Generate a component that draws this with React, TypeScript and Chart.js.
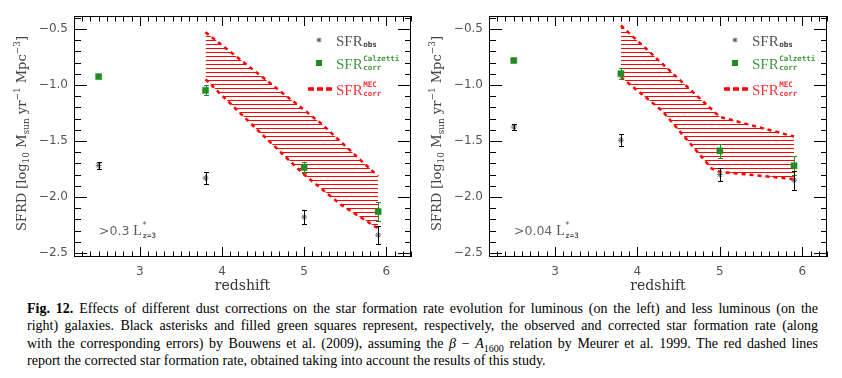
import React, { useEffect, useRef } from 'react';
import { Chart, registerables } from 'chart.js';
Chart.register(...registerables);

// ---------- data ----------
const xTicks = [3, 4, 5, 6];
const xTickLabels = ['3', '4', '5', '6'];
const yTicks = [-0.5, -1.0, -1.5, -2.0, -2.5];
const yTickLabels = ['−0.5', '−1.0', '−1.5', '−2.0', '−2.5'];

const redshifts = [2.5, 3.8, 5.0, 5.9];

// left panel: > 0.3 L*
const leftObs = [-1.718, -1.83, -2.179, -2.34];
const leftObsErr = [0.03, 0.05, 0.06, 0.078];
const leftCalz = [-0.926, -1.048, -1.736, -2.13];
const leftCalzErr = [0.012, 0.045, 0.05, 0.082];
const leftMecUpperZ = [3.8, 4.7, 5.2, 5.9];
const leftMecUpper = [-0.53, -1.05, -1.34, -1.815];
const leftMecLowerZ = [3.8, 4.5, 5.0, 5.45, 5.9];
const leftMecLower = [-0.95, -1.45, -1.8, -2.07, -2.28];

// right panel: > 0.04 L*
const rightObs = [-1.375, -1.493, -1.8, -1.85];
const rightObsErr = [0.03, 0.052, 0.057, 0.085];
const rightCalz = [-0.782, -0.9, -1.588, -1.721];
const rightCalzErr = [0.012, 0.049, 0.062, 0.084];
const rightMecUpperZ = [3.8, 5.0, 5.9];
const rightMecUpper = [-0.47, -1.285, -1.46];
const rightMecLowerZ = [3.8, 4.3, 4.9, 5.0, 5.9];
const rightMecLower = [-0.93, -1.23, -1.745, -1.775, -1.84];

const GREEN = '#228b22';
const RED = '#ff0000';
const TEXT = '#444';

type Run = { t: string; f: string; dy?: number; c?: string };

function runsWidth(ctx: CanvasRenderingContext2D, runs: Run[]) {
  let w = 0;
  for (const r of runs) {
    ctx.font = r.f;
    w += ctx.measureText(r.t).width;
  }
  return w;
}
function drawRuns(ctx: CanvasRenderingContext2D, x: number, y: number, runs: Run[], color: string) {
  let cx = x;
  for (const r of runs) {
    ctx.font = r.f;
    ctx.fillStyle = r.c || color;
    ctx.fillText(r.t, cx, y + (r.dy || 0));
    cx += ctx.measureText(r.t).width;
  }
  return cx;
}

function drawStar(ctx: CanvasRenderingContext2D, x: number, y: number, r: number, color: string) {
  ctx.save();
  ctx.strokeStyle = color;
  ctx.lineWidth = 1;
  ctx.beginPath();
  for (let k = 0; k < 4; k++) {
    const a = (k * Math.PI) / 4;
    ctx.moveTo(x - r * Math.cos(a), y - r * Math.sin(a));
    ctx.lineTo(x + r * Math.cos(a), y + r * Math.sin(a));
  }
  ctx.stroke();
  ctx.restore();
}

interface PanelCfg {
  obs: number[];
  obsErr: number[];
  calz: number[];
  calzErr: number[];
  upZ: number[];
  up: number[];
  loZ: number[];
  lo: number[];
  yAxisWidth: number;
  padRight: number;
  threshold: string;
}

const framePlugin = {
  id: 'frame',
  beforeDatasetsDraw(chart: any) {
    const { ctx, chartArea: a, scales } = chart;
    const xs = scales.x;
    const ys = scales.y;
    ctx.save();
    ctx.strokeStyle = '#000';
    ctx.lineWidth = 1;
    ctx.strokeRect(a.left + 0.5, a.top + 0.5, a.right - a.left - 1, a.bottom - a.top - 1);
    ctx.beginPath();
    for (let i = Math.ceil(xs.min * 10); i <= Math.floor(xs.max * 10); i++) {
      const px = Math.round(xs.getPixelForValue(i / 10)) + 0.5;
      const len = i % 10 === 0 ? 10 : 5.5;
      ctx.moveTo(px, a.bottom);
      ctx.lineTo(px, a.bottom - len);
      ctx.moveTo(px, a.top);
      ctx.lineTo(px, a.top + len);
    }
    for (let i = Math.ceil(ys.min * 10); i <= Math.floor(ys.max * 10); i++) {
      const py = Math.round(ys.getPixelForValue(i / 10)) + 0.5;
      const major = i % 5 === 0;
      ctx.moveTo(a.left, py);
      ctx.lineTo(a.left + (major ? 13 : 7), py);
      ctx.moveTo(a.right, py);
      ctx.lineTo(a.right - (major ? 13 : 6), py);
    }
    ctx.stroke();
    ctx.restore();
  },
};

const errorBarPlugin = {
  id: 'errbars',
  afterDatasetsDraw(chart: any) {
    const { ctx, scales } = chart;
    const xs = scales.x;
    const ys = scales.y;
    chart.data.datasets.forEach((ds: any) => {
      const errs: number[] | undefined = ds.errorBars;
      if (!errs) return;
      ctx.save();
      ctx.strokeStyle = ds.errorColor;
      ctx.lineWidth = 1;
      ctx.beginPath();
      ds.data.forEach((p: any, j: number) => {
        const x = Math.round(xs.getPixelForValue(p.x)) + 0.5;
        const y1 = Math.round(ys.getPixelForValue(p.y + errs[j])) + 0.5;
        const y2 = Math.round(ys.getPixelForValue(p.y - errs[j])) + 0.5;
        ctx.moveTo(x, y1);
        ctx.lineTo(x, y2);
        ctx.moveTo(x - 2.5, y1);
        ctx.lineTo(x + 2.5, y1);
        ctx.moveTo(x - 2.5, y2);
        ctx.lineTo(x + 2.5, y2);
      });
      ctx.stroke();
      ctx.restore();
    });
  },
};

function makeDecorPlugin(threshold: string) {
  return {
    id: 'decor',
    afterDraw(chart: any) {
      const { ctx, chartArea: a } = chart;
      ctx.save();
      ctx.textBaseline = 'alphabetic';
      // y axis title
      const mainF = '13px "DejaVu Serif"';
      const subF = '9px "DejaVu Serif"';
      const runs: Run[] = [
        { t: 'SFRD [log', f: mainF },
        { t: '10', f: subF, dy: 3 },
        { t: ' M', f: mainF },
        { t: 'sun', f: subF, dy: 3 },
        { t: ' yr', f: mainF },
        { t: '−1', f: subF, dy: -6 },
        { t: ' Mpc', f: mainF },
        { t: '−3', f: subF, dy: -6 },
        { t: ']', f: mainF },
      ];
      const w = runsWidth(ctx, runs);
      ctx.save();
      ctx.translate(a.left - 48, (a.top + a.bottom) / 2 - 3);
      ctx.rotate(-Math.PI / 2);
      drawRuns(ctx, -w / 2, 0, runs, TEXT);
      ctx.restore();

      // legend
      const mx = a.right - 92;
      const tx = a.right - 75;
      const sfrF = '15px "Liberation Serif"';
      const smallF = 'bold 7.5px "DejaVu Sans Mono"';
      const rows = [
        { cy: a.top + 24, color: '#555', sup: '', sub: 'obs' },
        { cy: a.top + 47, color: '#3c9a3c', sup: 'Calzetti', sub: 'corr' },
        { cy: a.top + 73, color: '#ff3030', sup: 'MEC', sub: 'corr' },
      ];
      rows.forEach((r, k) => {
        if (k === 0) drawStar(ctx, mx, r.cy, 2.5, '#555');
        if (k === 1) {
          ctx.fillStyle = GREEN;
          ctx.fillRect(mx - 3, r.cy - 3, 6, 6);
        }
        if (k === 2) {
          ctx.save();
          ctx.strokeStyle = RED;
          ctx.lineWidth = 3.5;
          ctx.setLineDash([6, 3]);
          ctx.beginPath();
          ctx.moveTo(a.right - 103, r.cy);
          ctx.lineTo(a.right - 79, r.cy);
          ctx.stroke();
          ctx.restore();
        }
        const base = r.cy + 5.5;
        ctx.font = sfrF;
        ctx.fillStyle = r.color;
        ctx.fillText('SFR', tx, base);
        const sx = tx + ctx.measureText('SFR').width + 0.5;
        ctx.font = smallF;
        ctx.fillStyle = k === 0 ? '#333' : r.color;
        ctx.fillText(r.sub, sx, base + 1.5);
        if (r.sup) ctx.fillText(r.sup, sx, base - 8);
      });

      // threshold annotation
      const ax = a.left + 25;
      const ab = a.bottom - 22;
      let cx = drawRuns(ctx, ax, ab, [{ t: '>' + threshold + ' ', f: '12.5px "DejaVu Sans"' }], '#666');
      ctx.font = '14px "Liberation Serif"';
      ctx.fillStyle = '#555';
      ctx.fillText('L', cx, ab);
      const lw = ctx.measureText('L').width;
      ctx.font = '8px "DejaVu Sans"';
      ctx.fillText('*', cx + lw + 0.5, ab - 7);
      ctx.font = smallF;
      ctx.fillText('z=3', cx + lw + 0.5, ab + 2.5);
      ctx.restore();
    },
  };
}

function buildConfig(cfg: PanelCfg, hatch: CanvasPattern | string): any {
  const pts = (xs: number[], ys: number[]) => xs.map((x, i) => ({ x, y: ys[i] }));
  return {
    type: 'line',
    data: {
      datasets: [
        {
          data: pts(redshifts, cfg.calz),
          showLine: false,
          pointStyle: 'rect',
          pointRadius: 4.3,
          pointBackgroundColor: GREEN,
          pointBorderColor: GREEN,
          pointBorderWidth: 0.5,
          errorBars: cfg.calzErr,
          errorColor: GREEN,
        },
        {
          data: pts(redshifts, cfg.obs),
          showLine: false,
          pointStyle: 'star',
          pointRadius: 3,
          pointBorderColor: '#666',
          pointBorderWidth: 1,
          errorBars: cfg.obsErr,
          errorColor: '#000',
        },
        {
          data: pts(cfg.upZ, cfg.up),
          borderColor: RED,
          borderWidth: 2.5,
          borderDash: [4, 4],
          pointRadius: 0,
          tension: 0,
          fill: '+1',
          backgroundColor: hatch,
        },
        {
          data: pts(cfg.loZ, cfg.lo),
          borderColor: RED,
          borderWidth: 2.5,
          borderDash: [4, 4],
          pointRadius: 0,
          tension: 0,
          fill: false,
        },
      ],
    },
    options: {
      responsive: false,
      animation: false,
      events: [],
      layout: { padding: { left: 0, right: cfg.padRight, top: 16, bottom: 0 }, autoPadding: false },
      plugins: { legend: { display: false }, tooltip: { enabled: false } },
      scales: {
        x: {
          type: 'linear',
          min: 2.2,
          max: 6.3,
          grid: { display: false, drawTicks: false },
          border: { display: false },
          afterBuildTicks: (s: any) => {
            s.ticks = xTicks.map((v) => ({ value: v }));
          },
          afterFit: (s: any) => {
            s.height = 38;
          },
          ticks: {
            callback: (v: number) => xTickLabels[xTicks.indexOf(v)],
            font: { family: 'DejaVu Sans', size: 12 },
            color: '#555',
            padding: 8,
            maxRotation: 0,
            autoSkip: false,
          },
          title: {
            display: true,
            text: 'redshift',
            font: { family: 'DejaVu Serif', size: 14 },
            color: '#333',
            padding: { top: 0, bottom: 0 },
          },
        },
        y: {
          type: 'linear',
          min: -2.535,
          max: -0.385,
          grid: { display: false, drawTicks: false },
          border: { display: false },
          afterBuildTicks: (s: any) => {
            s.ticks = yTicks.map((v) => ({ value: v }));
          },
          afterFit: (s: any) => {
            s.width = cfg.yAxisWidth;
          },
          ticks: {
            callback: (v: number) => yTickLabels[yTicks.indexOf(v)],
            font: { family: 'DejaVu Sans', size: 12 },
            color: '#555',
            padding: 6,
            autoSkip: false,
          },
        },
      },
    },
    plugins: [framePlugin, errorBarPlugin, makeDecorPlugin(cfg.threshold)],
  };
}

function Panel({ left, cfg }: { left: number; cfg: PanelCfg }) {
  const ref = useRef<HTMLCanvasElement>(null);
  useEffect(() => {
    const canvas = ref.current!;
    const pc = document.createElement('canvas');
    pc.width = 8;
    pc.height = 4;
    const pctx = pc.getContext('2d')!;
    pctx.fillStyle = RED;
    pctx.fillRect(0, 0, 8, 1);
    const hatch = canvas.getContext('2d')!.createPattern(pc, 'repeat') || 'rgba(255,0,0,0.3)';
    const chart = new Chart(canvas, buildConfig(cfg, hatch));
    return () => chart.destroy();
  }, []);
  return (
    <canvas
      ref={ref}
      width={421}
      height={295}
      style={{ position: 'absolute', left, top: 0, width: 421, height: 295 }}
    />
  );
}

const leftCfg: PanelCfg = {
  obs: leftObs,
  obsErr: leftObsErr,
  calz: leftCalz,
  calzErr: leftCalzErr,
  upZ: leftMecUpperZ,
  up: leftMecUpper,
  loZ: leftMecLowerZ,
  lo: leftMecLower,
  yAxisWidth: 74,
  padRight: 10,
  threshold: '0.3',
};
const rightCfg: PanelCfg = {
  obs: rightObs,
  obsErr: rightObsErr,
  calz: rightCalz,
  calzErr: rightCalzErr,
  upZ: rightMecUpperZ,
  up: rightMecUpper,
  loZ: rightMecLowerZ,
  lo: rightMecLower,
  yAxisWidth: 68,
  padRight: 15,
  threshold: '0.04',
};

export default function App() {
  const lineStyle = (justify: boolean): React.CSSProperties => ({
    whiteSpace: 'nowrap',
    textAlign: justify ? 'justify' : 'left',
    textAlignLast: justify ? 'justify' : 'left',
  } as React.CSSProperties);
  return (
    <div style={{ position: 'absolute', left: 0, top: 0, width: 842, height: 378, background: '#fff', overflow: 'hidden' }}>
      <Panel left={0} cfg={leftCfg} />
      <Panel left={421} cfg={rightCfg} />
      <div
        style={{
          position: 'absolute',
          left: 27,
          top: 300,
          width: 791,
          fontFamily: '"Liberation Serif", "Times New Roman", serif',
          fontSize: 14,
          lineHeight: '17.4px',
          color: '#000',
        }}
      >
        <div style={lineStyle(true)}>
          <b>Fig. 12.</b> Effects of different dust corrections on the star formation rate evolution for luminous (on the left) and less luminous (on the
        </div>
        <div style={lineStyle(true)}>
          right) galaxies. Black asterisks and filled green squares represent, respectively, the observed and corrected star formation rate (along
        </div>
        <div style={lineStyle(true)}>
          with the corresponding errors) by Bouwens et al. (2009), assuming the <i>β</i> − <i>A</i>
          <sub style={{ fontSize: 10, lineHeight: 0 }}>1600</sub> relation by Meurer et al. 1999. The red dashed lines
        </div>
        <div style={lineStyle(false)}>
          report the corrected star formation rate, obtained taking into account the results of this study.
        </div>
      </div>
    </div>
  );
}
